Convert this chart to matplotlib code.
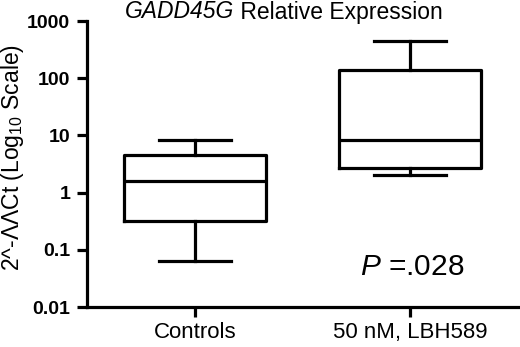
import matplotlib
matplotlib.use("Agg")
import matplotlib.pyplot as plt

plt.rcParams['font.family'] = ['Liberation Sans', 'DejaVu Sans']
plt.rcParams['mathtext.fontset'] = 'custom'
plt.rcParams['mathtext.rm'] = 'Liberation Sans'
plt.rcParams['mathtext.it'] = 'Liberation Sans:italic'
plt.rcParams['mathtext.bf'] = 'Liberation Sans:bold'

categories = ["Controls", "50 nM, LBH589"]
whisker_low = [0.063, 2.05]
q1 = [0.315, 2.7]
median = [1.58, 8.4]
q3 = [4.6, 141]
whisker_high = [8.4, 440]
yticks = [0.01, 0.1, 1, 10, 100, 1000]
ytick_labels = ["0.01", "0.1", "1", "10", "100", "1000"]
title_main = "GADD45G"
title_rest = " Relative Expression"
pvalue_text = r"$\it{P}$ =.028"

fig = plt.figure(figsize=(5.2, 3.47), dpi=100)
ax = fig.add_axes([87/520, 1-307/347, 431/520, (307-21)/347])

stats = []
for i, c in enumerate(categories):
    stats.append(dict(label=c, whislo=whisker_low[i], q1=q1[i], med=median[i],
                      q3=q3[i], whishi=whisker_high[i], fliers=[]))

lw = 2.3
ax.bxp(stats, positions=[0, 1], widths=0.66, showfliers=False,
       boxprops=dict(color='black', linewidth=lw),
       medianprops=dict(color='black', linewidth=lw),
       whiskerprops=dict(color='black', linewidth=lw),
       capprops=dict(color='black', linewidth=lw),
       capwidths=0.335)

ax.set_yscale('log')
ax.set_ylim(0.01, 1000)
ax.set_xlim(-0.5, 1.5)
ax.set_yticks(yticks)
ax.set_yticklabels(ytick_labels, fontweight='bold', fontsize=14)
ax.yaxis.set_minor_locator(matplotlib.ticker.NullLocator())
ax.set_xticks([0, 1])
ax.set_xticklabels(categories, fontsize=16)
ax.tick_params(axis='both', width=lw, length=7, color='black')
ax.tick_params(axis='y', pad=5)
ax.tick_params(axis='x', pad=4)

for s in ['top', 'right']:
    ax.spines[s].set_visible(False)
for s in ['left', 'bottom']:
    ax.spines[s].set_linewidth(lw)

ax.set_ylabel(r"2^-ΛΛCt (Log$_{10}$ Scale)", fontsize=16.5, va='center')
ax.yaxis.set_label_coords((13-87)/431, (307-157)/286)

# title: italic gene name + regular rest, laid out side by side
fig.canvas.draw()
renderer = fig.canvas.get_renderer()
t1 = fig.text(0, 1-12/347, title_main, ha='left', va='center', fontsize=16.5, style='italic')
t2 = fig.text(0, 1-12/347, title_rest, ha='left', va='center', fontsize=16.5)
w1 = t1.get_window_extent(renderer).width
w2 = t2.get_window_extent(renderer).width
x0 = 284 - (w1 + w2) / 2
t1.set_x(x0/520)
t2.set_x((x0 + w1)/520)

ax.text(1.01, (307-267)/286, pvalue_text, ha='center', va='center', fontsize=21.5,
        transform=ax.get_xaxis_transform())

fig.savefig("out.png", dpi=100)
